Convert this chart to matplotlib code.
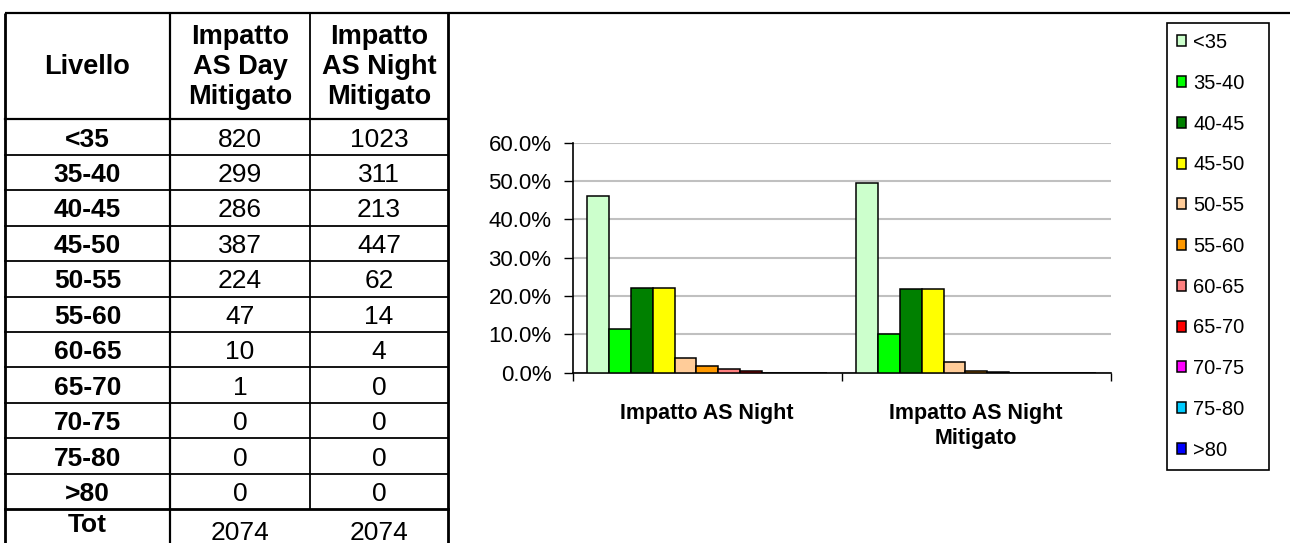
import matplotlib
matplotlib.use('Agg')
import matplotlib.pyplot as plt
import numpy as np

plt.rcParams['font.family'] = ['Liberation Sans', 'DejaVu Sans']

# ---------------- data ----------------
levels = ['<35', '35-40', '40-45', '45-50', '50-55', '55-60', '60-65',
          '65-70', '70-75', '75-80', '>80']
day_mitigato = [820, 299, 286, 387, 224, 47, 10, 1, 0, 0, 0]
night_mitigato = [1023, 311, 213, 447, 62, 14, 4, 0, 0, 0, 0]
total_label = 'Tot'
totals = [2074, 2074]
table_header = ['Livello', 'Impatto\nAS Day\nMitigato', 'Impatto\nAS Night\nMitigato']

groups = ['Impatto AS Night', 'Impatto AS Night\nMitigato']
pct_night = [46.1, 11.5, 22.2, 22.2, 3.75, 1.83, 0.97, 0.5, 0.0, 0.0, 0.0]
pct_night_mitigato = [49.4, 10.1, 21.8, 21.8, 2.8, 0.5, 0.2, 0.0, 0.0, 0.0, 0.0]
y_ticks = [0, 10, 20, 30, 40, 50, 60]

colors = ['#CCFFCC', '#00FF00', '#008000', '#FFFF00', '#FFCC99', '#FF9900',
          '#FF8080', '#FF0000', '#FF00FF', '#00CCFF', '#0000FF']

W, H = 1290, 543
fig = plt.figure(figsize=(W / 100, H / 100), dpi=100)
fig.patch.set_facecolor('white')

# ---------------- overlay (table) ----------------
ov = fig.add_axes([0, 0, 1, 1])
ov.set_xlim(0, W)
ov.set_ylim(H, 0)
ov.axis('off')
ov.patch.set_visible(False)

px = 0.72  # points per pixel at 100 dpi
top_y = 12.5
col_x = [5, 170, 310, 448]
head_bot = 119.3
row_h = 35.45
n_rows = len(levels)
row_y = [head_bot + i * row_h for i in range(n_rows + 1)]
tot_top = row_y[-1]

ov.plot([col_x[0], W], [top_y, top_y], color='black', lw=2.2 * px, solid_capstyle='butt')
for x in (col_x[0], col_x[3]):
    ov.plot([x, x], [top_y, H], color='black', lw=2.8 * px, solid_capstyle='butt')
ov.plot([col_x[1], col_x[1]], [top_y, H], color='black', lw=2.2 * px, solid_capstyle='butt')
ov.plot([col_x[2], col_x[2]], [top_y, tot_top], color='black', lw=1.8 * px, solid_capstyle='butt')
ov.plot([col_x[0], col_x[3]], [head_bot, head_bot], color='black', lw=2.2 * px)
for y in row_y[1:-1]:
    ov.plot([col_x[0], col_x[3]], [y, y], color='black', lw=1.8 * px)
ov.plot([col_x[0], col_x[3]], [tot_top, tot_top], color='black', lw=2.8 * px)

centers = [(col_x[i] + col_x[i + 1]) / 2 for i in range(3)]
fs_tab = 19
for i, h in enumerate(table_header):
    ov.text(centers[i], 66.5, h, ha='center', va='center', fontsize=19.5,
            fontweight='bold', linespacing=1.2)
for r in range(n_rows):
    yc = (row_y[r] + row_y[r + 1]) / 2
    ov.text(centers[0], yc, levels[r], ha='center', va='center_baseline', fontsize=fs_tab, fontweight='bold')
    ov.text(centers[1], yc, str(day_mitigato[r]), ha='center', va='center_baseline', fontsize=fs_tab)
    ov.text(centers[2], yc, str(night_mitigato[r]), ha='center', va='center_baseline', fontsize=fs_tab)
ov.text(centers[0], 522, total_label, ha='center', va='center_baseline', fontsize=fs_tab, fontweight='bold')
ov.text(centers[1], 531, str(totals[0]), ha='center', va='center_baseline', fontsize=fs_tab)
ov.text(centers[2], 531, str(totals[1]), ha='center', va='center_baseline', fontsize=fs_tab)

# ---------------- bar chart ----------------
ax_l, ax_r, ax_b, ax_t = 572.7, 1110.7, 372.7, 142.7
ax = fig.add_axes([ax_l / W, 1 - ax_b / H, (ax_r - ax_l) / W, (ax_b - ax_t) / H])
ax.set_xlim(-0.5, 1.5)
ax.set_ylim(0, 60)

n = len(levels)
bw = 0.081
offsets = (np.arange(n) - (n - 1) / 2) * bw
xg = np.arange(len(groups))
handles = []
for k in range(n):
    b = ax.bar(xg + offsets[k], [pct_night[k], pct_night_mitigato[k]], width=bw,
               color=colors[k], edgecolor='black', linewidth=1.1, label=levels[k], zorder=3)
    handles.append(b)

ax.set_axisbelow(True)
ax.yaxis.grid(True, color='#C0C0C0', lw=1.5)
ax.set_yticks(y_ticks)
ax.set_yticklabels([f'{v:.1f}%' for v in y_ticks], fontsize=16)
ax.tick_params(axis='y', direction='out', length=6.3, width=1, pad=9, colors='black')
ax.set_xticks(xg)
ax.set_xticklabels(groups, fontsize=15.5, fontweight='bold', linespacing=1.25)
ax.set_xticks([-0.5, 0.5, 1.5], minor=True)
ax.tick_params(axis='x', which='major', length=0, pad=22)
ax.tick_params(axis='x', which='minor', direction='out', length=6, width=1)
for s in ('top', 'right'):
    ax.spines[s].set_visible(False)
ax.spines['left'].set_linewidth(1.2)
ax.spines['bottom'].set_linewidth(1.2)

leg = fig.legend(handles=handles, labels=levels, loc='upper left',
                 bbox_to_anchor=(1167 / W, 1 - 469 / H, 102 / W, 446 / H),
                 mode='expand', borderaxespad=0, fontsize=14.5,
                 handlelength=0.45, handleheight=0.45, handletextpad=0.35,
                 labelspacing=1.08, borderpad=0.5, fancybox=False, framealpha=1)
leg.get_frame().set_edgecolor('black')
leg.get_frame().set_linewidth(1.2)

fig.savefig('out.png', dpi=100, facecolor='white')
